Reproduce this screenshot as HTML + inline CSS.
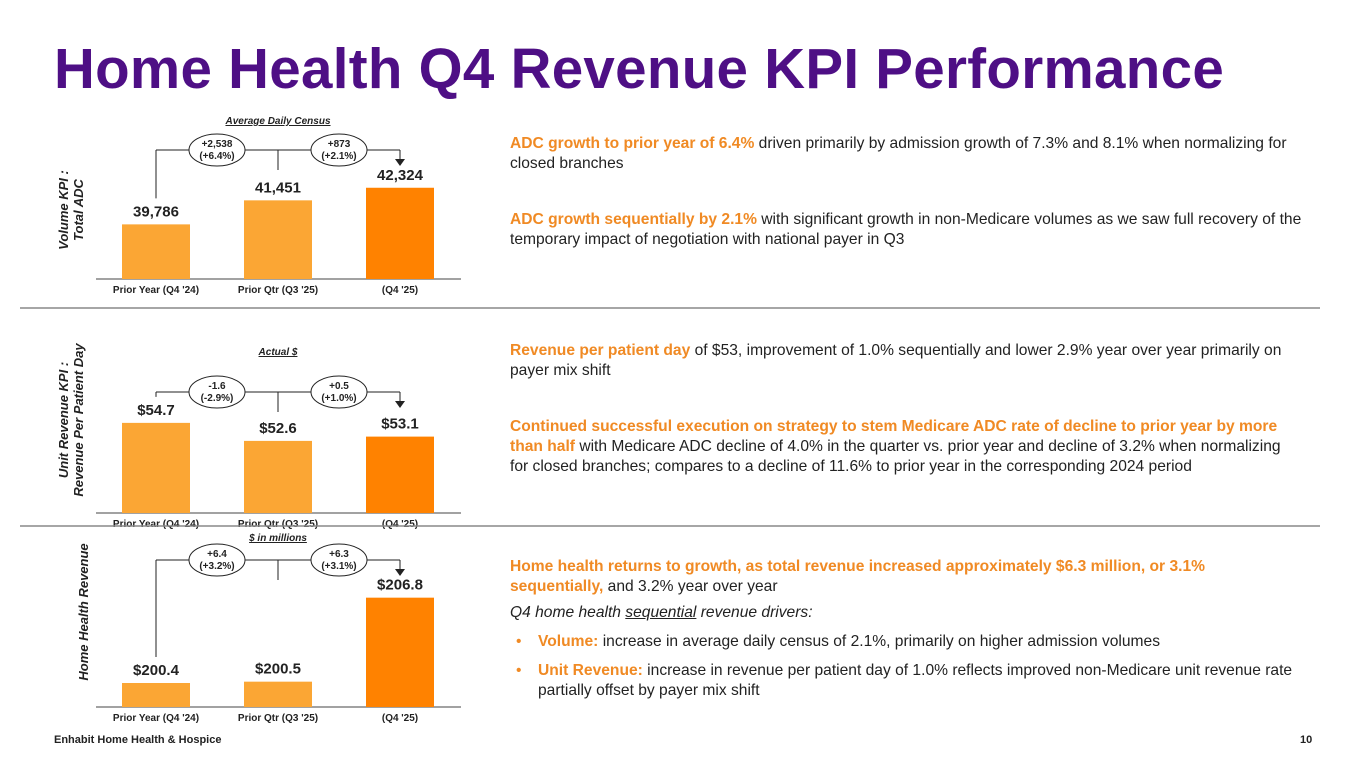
<!DOCTYPE html>
<html><head><meta charset="utf-8">
<style>
body{margin:0;width:1365px;height:768px;overflow:hidden;background:#fff;font-family:"Liberation Sans",Arial,sans-serif;position:relative}
.t{position:absolute;left:510px;width:792px;font-size:15.6px;line-height:20px;color:#222}
.o{color:#F08A24;font-weight:bold}
h1{position:absolute;left:54px;top:36px;margin:0;font-size:56.5px;line-height:66px;font-weight:bold;color:#4E0F85;letter-spacing:0.3px}
ul{margin:0;padding:0;list-style:none}
li{position:relative;padding-left:28px}
li:before{content:"•";color:#F08A24;position:absolute;left:6px}
</style></head><body>
<h1>Home Health Q4 Revenue KPI Performance</h1>
<svg id="s" width="1365" height="768" style="position:absolute;left:0;top:0"></svg>
<div class="t" style="top:134px"><span class="o">ADC growth to prior year of 6.4%</span> driven primarily by admission growth of 7.3% and 8.1% when normalizing for closed branches</div>
<div class="t" style="top:210px"><span class="o">ADC growth sequentially by 2.1%</span> with significant growth in non-Medicare volumes as we saw full recovery of the temporary impact of negotiation with national payer in Q3</div>
<div class="t" style="top:341px"><span class="o">Revenue per patient day</span> of $53, improvement of 1.0% sequentially and lower 2.9% year over year primarily on payer mix shift</div>
<div class="t" style="top:417px"><span class="o">Continued successful execution on strategy to stem Medicare ADC rate of decline to prior year by more than half</span> with Medicare ADC decline of 4.0% in the quarter vs. prior year and decline of 3.2% when normalizing for closed branches; compares to a decline of 11.6% to prior year in the corresponding 2024 period</div>
<div class="t" style="top:557px"><span class="o">Home health returns to growth, as total revenue increased approximately $6.3 million, or 3.1% sequentially,</span> and 3.2% year over year
<div style="margin-top:6px;font-style:italic">Q4 home health <u>sequential</u> revenue drivers:</div>
<ul style="margin-top:9px">
<li style="margin-bottom:9px"><span class="o">Volume:</span> increase in average daily census of 2.1%, primarily on higher admission volumes</li>
<li><span class="o">Unit Revenue:</span> increase in revenue per patient day of 1.0% reflects improved non-Medicare unit revenue rate partially offset by payer mix shift</li>
</ul></div>
<div style="position:absolute;left:54px;top:734px;font-size:11px;font-weight:bold;color:#222">Enhabit Home Health &amp; Hospice</div>
<div style="position:absolute;left:1300px;top:734px;font-size:11px;font-weight:bold;color:#222">10</div>
<script>
const categories=["Prior Year  (Q4 '24)","Prior Qtr (Q3 '25)","(Q4 '25)"];
const adcValues=[39786,41451,42324];
const adcLabels=["39,786","41,451","42,324"];
const adcDeltas=[["+2,538","(+6.4%)"],["+873","(+2.1%)"]];
const rppdValues=[54.7,52.6,53.1];
const rppdLabels=["$54.7","$52.6","$53.1"];
const rppdDeltas=[["-1.6","(-2.9%)"],["+0.5","(+1.0%)"]];
const revValues=[200.4,200.5,206.8];
const revLabels=["$200.4","$200.5","$206.8"];
const revDeltas=[["+6.4","(+3.2%)"],["+6.3","(+3.1%)"]];
const S=document.getElementById('s'),NS="http://www.w3.org/2000/svg";
function mk(tag,a,txt){const e=document.createElementNS(NS,tag);for(const k in a)e.setAttribute(k,a[k]);if(txt!==undefined)e.textContent=txt;S.appendChild(e);return e;}
function chart(cfg){
 const {vals,labels,deltas,base,top,dmin,dmax,title,ytitle,bracketY,titleY,name}=cfg;
 const y=v=>base-(v-dmin)/(dmax-dmin)*(base-top);
 const xs=[156,278,400],bw=68;
 let e=mk('line',{x1:96,x2:461,y1:base,y2:base,stroke:'#444','stroke-width':1});
 
 vals.forEach((v,i)=>{
  e=mk('rect',{x:xs[i]-bw/2,y:y(v),width:bw,height:base-y(v),fill:i==2?'#FF8200':'#FBA634'});
  
  e=mk('text',{x:xs[i],y:y(v)-8,'text-anchor':'middle','font-size':15,'font-weight':'bold',fill:'#222'},labels[i]);
  
  e=mk('text',{x:xs[i],y:base+14,'text-anchor':'middle','font-size':10,'font-weight':'bold',fill:'#222'},categories[i]);
  
 });
 const L='#222';
 mk('line',{x1:xs[0],x2:xs[2],y1:bracketY,y2:bracketY,stroke:L});
 mk('line',{x1:xs[0],x2:xs[0],y1:bracketY,y2:y(vals[0])-26,stroke:L});
 mk('line',{x1:xs[1],x2:xs[1],y1:bracketY,y2:Math.min(y(vals[1])-26,bracketY+20),stroke:L});
 mk('line',{x1:xs[2],x2:xs[2],y1:bracketY,y2:bracketY+10,stroke:L});
 mk('polygon',{points:`${xs[2]-5},${bracketY+9} ${xs[2]+5},${bracketY+9} ${xs[2]},${bracketY+16}`,fill:L});
 deltas.forEach((d,i)=>{
  const cx=(xs[i]+xs[i+1])/2;
  e=mk('ellipse',{cx:cx,cy:bracketY,rx:28,ry:16,fill:'#fff',stroke:L});
  
  mk('text',{x:cx,y:bracketY-3,'text-anchor':'middle','font-size':10,'font-weight':'bold',fill:L},d[0]);
  mk('text',{x:cx,y:bracketY+9,'text-anchor':'middle','font-size':10,'font-weight':'bold',fill:L},d[1]);
 });
 e=mk('text',{x:278,y:titleY,'text-anchor':'middle','font-size':10,'font-weight':'bold','font-style':'italic','text-decoration':'underline',fill:L},title);
 
 ytitle.forEach((t,i)=>{
  e=mk('text',{transform:`translate(${cfg.yx+i*15},${cfg.yc}) rotate(-90)`,'text-anchor':'middle','font-size':13,'font-weight':'bold','font-style':'italic',fill:L},t);
  
 });
}
chart({vals:adcValues,labels:adcLabels,deltas:adcDeltas,base:279,top:178,dmin:36000,dmax:43000,title:'Average  Daily  Census',ytitle:['Volume KPI :','Total ADC'],bracketY:150,titleY:124,name:'adc',yx:68,yc:210});
chart({vals:rppdValues,labels:rppdLabels,deltas:rppdDeltas,base:513,top:410,dmin:44.2,dmax:56.2,title:'Actual  $',ytitle:['Unit Revenue KPI :','Revenue Per Patient Day'],bracketY:392,titleY:355,name:'rppd',yx:68,yc:420});
chart({vals:revValues,labels:revLabels,deltas:revDeltas,base:707,top:587,dmin:198.6,dmax:207.6,title:'$ in millions',ytitle:['Home Health Revenue'],bracketY:560,titleY:541,name:'revenue',yx:88,yc:612});
[308,526].forEach((yy,i)=>{const e=mk('line',{x1:20,x2:1320,y1:yy,y2:yy,stroke:'#888','stroke-width':1.5});

});
</script>
</body></html>
